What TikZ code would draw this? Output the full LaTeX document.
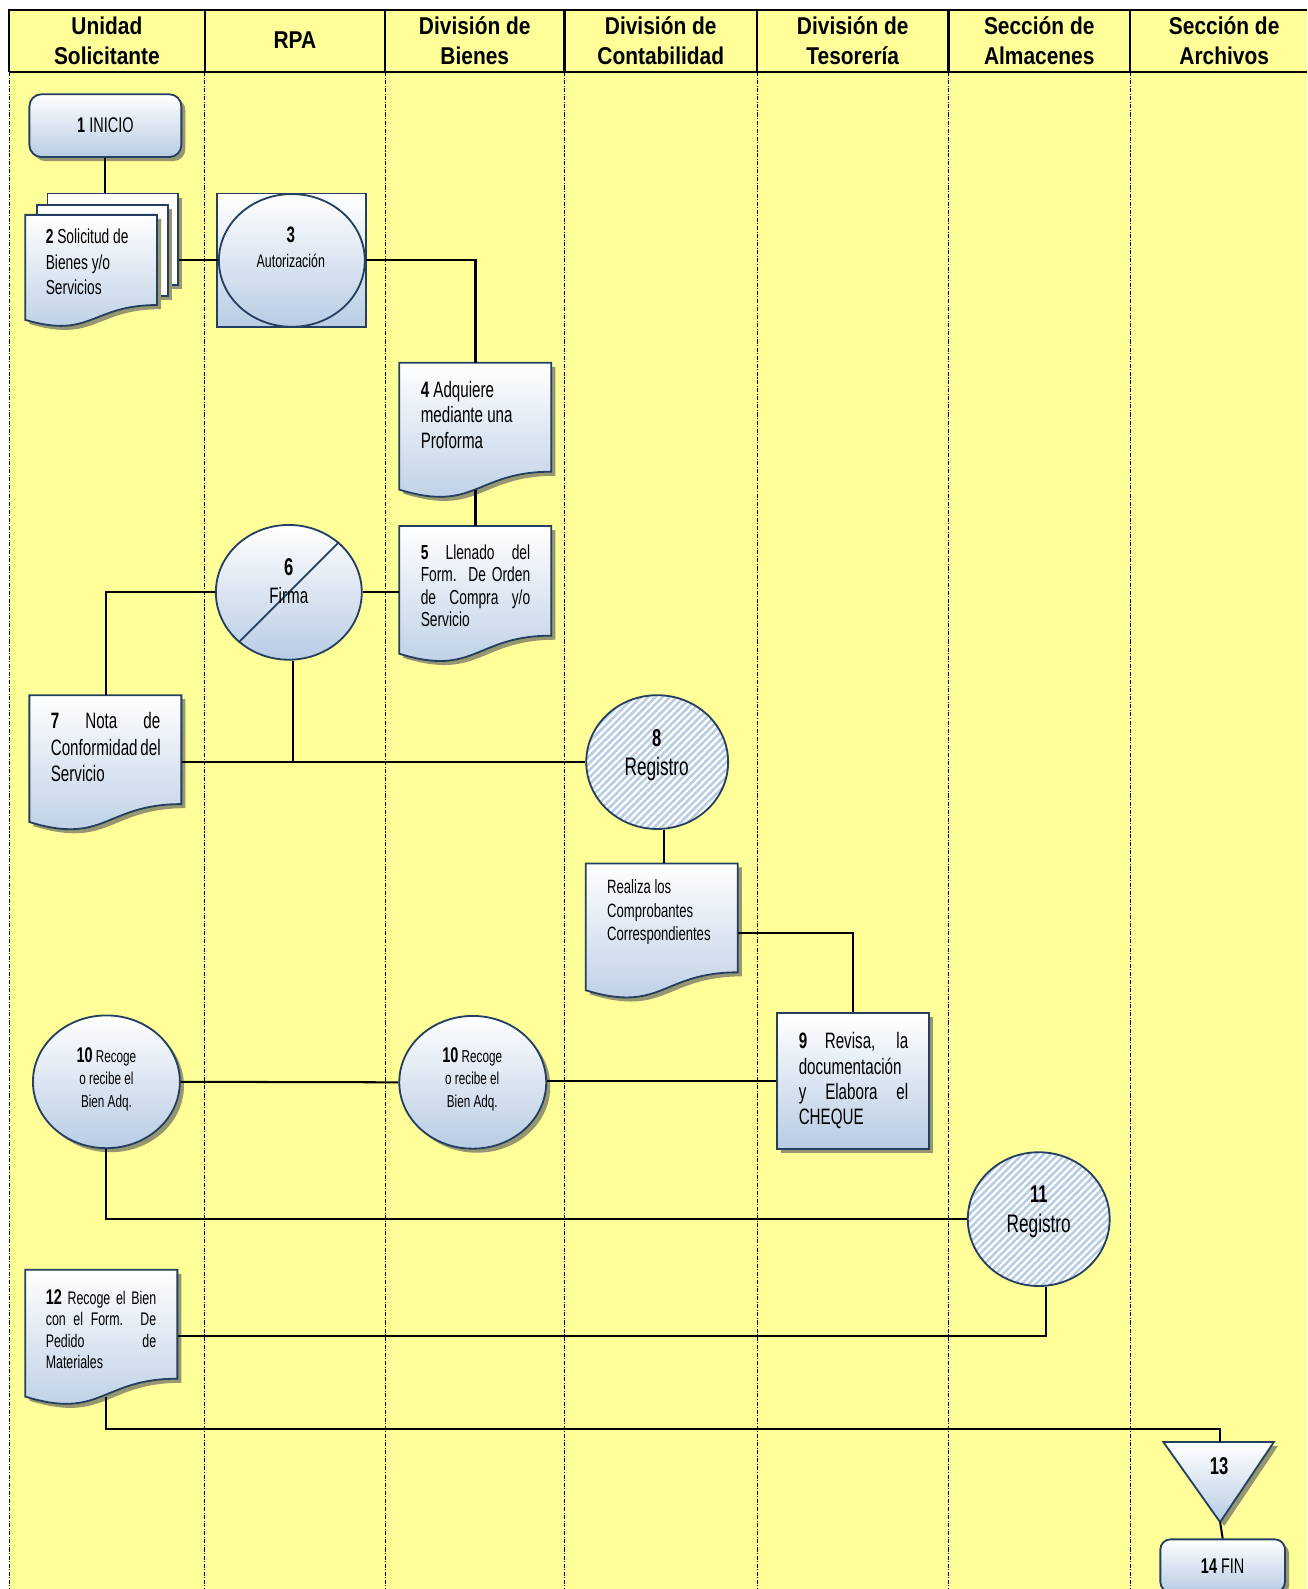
\documentclass[tikz,border=0pt]{standalone}
\usepackage{fontspec}
\usetikzlibrary{shapes.geometric,shadows,patterns.meta}
\newfontfamily\bodyf[FakeStretch=0.68]{Liberation Sans}
\newfontfamily\hdrf[FakeStretch=0.86]{Liberation Sans}
\definecolor{bgy}{RGB}{255,255,153}
\definecolor{navy}{RGB}{36,63,96}
\definecolor{lblue}{RGB}{184,204,228}
\definecolor{shadowc}{RGB}{150,150,112}
\definecolor{hatchc}{RGB}{184,204,228}
\newcommand\fsz[2]{\fontsize{#1}{#2}\selectfont}
\newcommand\jl[2]{\makebox[#1][s]{#2}}
\tikzset{
 shapeb/.style={draw=navy, line width=1.8pt},
 conn/.style={line width=2pt, black},
 gradf/.style={top color=white, bottom color=lblue},
 shad/.style={drop shadow={shadow xshift=4pt, shadow yshift=-4pt, fill=shadowc, opacity=1}},
 txt/.style={inner sep=0pt},
 divl/.style={line width=0.7pt, dash pattern=on 4pt off 1.5pt on 1pt off 1.5pt},
 hatch/.style={preaction={fill=white}, pattern={Lines[angle=45,distance=5pt,line width=2.5pt]}, pattern color=hatchc},
 hdr/.style={align=center, inner sep=0pt, font={\hdrf\bfseries\fsz{24}{30}}},
}
\newcommand\docnode[5]{%
  \pgfmathsetmacro\dRy{#3+0.802*#5}%
  \pgfmathsetmacro\dLy{#3+0.934*#5}%
  \pgfmathsetmacro\dCy{#3+1.107*#5}%
  \pgfmathsetmacro\dMx{(#2+#4)/2}%
  \pgfmathsetmacro\dW{#4-#2}%
  \pgfmathsetmacro\dH{0.933*#5}%
  \fill[shadowc,xshift=4pt,yshift=-4pt] (#2,#3) -- (#4,#3) -- (#4,\dRy) .. controls (\dMx,\dRy) and (\dMx,\dCy) .. (#2,\dLy) -- cycle;
  \draw[shapeb,gradf] (#2,#3) -- (#4,#3) -- (#4,\dRy) .. controls (\dMx,\dRy) and (\dMx,\dCy) .. (#2,\dLy) -- cycle;
  \node[inner sep=0pt,minimum width=\dW pt,minimum height=\dH pt,anchor=north west] (#1) at (#2,#3) {};
}
\begin{document}
\begin{tikzpicture}[x=1pt,y=-1pt]
\useasboundingbox (0,0) rectangle (1290,1568);
\fill[white] (0,0) rectangle (1290,1568);
\fill[bgy] (9,10) rectangle (1290,1568);
% lane dividers
\foreach \xx in {9,202,380,557,747,936,1115} {\draw[divl] (\xx,71) -- (\xx,1568);}
% header
\draw[line width=2.2pt] (9,71) -- (9,10) -- (1290,10);
\draw[line width=2.2pt] (9,71) -- (1290,71);
\foreach \xx in {202,380,557,747,936,1115} {\draw[line width=2.2pt] (\xx,10) -- (\xx,71);}
\node[hdr] (h1) at (105.5,40) {Unidad\\Solicitante};
\node[hdr] (h2) at (291,40) {RPA};
\node[hdr] (h3) at (468.5,40) {División de\\Bienes};
\node[hdr] (h4) at (652,40) {División de\\Contabilidad};
\node[hdr] (h5) at (841.5,40) {División de\\Tesorería};
\node[hdr] (h6) at (1025.5,40) {Sección de\\Almacenes};
\node[hdr] (h7) at (1208,40) {Sección de\\Archivos};

% 1 INICIO
\node[shapeb, gradf, shad, rounded corners=12pt, minimum width=150pt, minimum height=62pt, inner sep=0pt, font={\bodyf\fsz{21}{21}}] (n1) at (104,124) {\textbf{1} INICIO};
% 2 multi document
\node[shapeb, fill=white, shad, minimum width=129pt, minimum height=90pt, inner sep=0pt, anchor=north west] (d2c) at (46,190) {};
\node[shapeb, fill=white, shad, minimum width=129pt, minimum height=90pt, inner sep=0pt, anchor=north west] (d2b) at (36,201) {};
\docnode{d2}{25}{212}{155}{111}
\node[txt, anchor=north west, align=left, font={\bodyf\fsz{20}{25}}] (t2) at (45,226) {\textbf{2} Solicitud de\\Bienes y/o\\Servicios};
% 3
\node[shapeb, gradf, minimum width=147pt, minimum height=132pt, inner sep=0pt] (sq3) at (287.5,257) {};
\node[ellipse, shapeb, gradf, minimum width=144pt, minimum height=131pt, inner sep=0pt] (c3) at (288,257) {};
\node[txt, anchor=base, font={\bodyf\bfseries\fsz{22}{22}}] (t3a) at (287,239) {3};
\node[txt, anchor=base, font={\bodyf\fsz{18}{18}}] (t3b) at (287,263.5) {Autorización};
% 4
\docnode{d4}{394}{358}{544}{134}
\node[txt, anchor=north west, align=left, font={\bodyf\fsz{22}{25}}] (t4) at (415,376) {\textbf{4} Adquiere\\mediante una\\Proforma};
% 5
\docnode{d5}{394}{519}{544}{135}
\node[txt, anchor=north west, align=left, font={\bodyf\fsz{20}{22}}] (t5) at (415,537.6) {\jl{108pt}{\textbf{5} Llenado del}\\\jl{108pt}{Form. De Orden}\\\jl{108pt}{de Compra y/o}\\Servicio};
% 6
\node[ellipse, shapeb, gradf, minimum width=144pt, minimum height=133pt, inner sep=0pt] (c6) at (285,584.5) {};
\draw[navy, line width=1.8pt] (c6.225) -- (c6.45);
\node[txt, anchor=base, font={\bodyf\bfseries\fsz{24}{24}}] (t6a) at (285,567.6) {6};
\node[txt, anchor=base, font={\bodyf\fsz{22}{22}}] (t6b) at (285,596) {Firma};
% 7
\docnode{d7}{29}{686}{179}{134}
\node[txt, anchor=north west, align=left, font={\bodyf\fsz{22}{26}}] (t7) at (50,702.9) {\jl{108pt}{\textbf{7} Nota de}\\\jl{108pt}{Conformidad del}\\Servicio};
% 8
\node[ellipse, shapeb, hatch, minimum width=140pt, minimum height=132pt, inner sep=0pt] (c8) at (648.5,752) {};
\node[txt, anchor=base, font={\bodyf\bfseries\fsz{24}{24}}] (t8a) at (648,736.6) {8};
\node[txt, anchor=base, font={\bodyf\fsz{25}{25}}] (t8b) at (648,765) {Registro};
% Realiza
\docnode{dr}{578}{852}{728}{134}
\node[txt, anchor=north west, align=left, font={\bodyf\fsz{19}{23}}] (tr) at (599,868) {Realiza los\\Comprobantes\\Correspondientes};
% 9
\node[shapeb, gradf, shad, minimum width=150pt, minimum height=134pt, inner sep=0pt] (b9) at (842,1067) {};
\node[txt, anchor=north west, align=left, font={\bodyf\fsz{22}{25}}] (t9) at (788,1018.9) {\jl{108pt}{\textbf{9} Revisa, la}\\documentación\\\jl{108pt}{y Elabora el}\\CHEQUE};
% 10
\node[ellipse, shapeb, gradf, shad, minimum width=145pt, minimum height=131pt, inner sep=0pt] (c10a) at (105,1067.5) {};
\node[ellipse, shapeb, gradf, shad, minimum width=145pt, minimum height=131pt, inner sep=0pt] (c10b) at (466.5,1068) {};
\node[txt, anchor=north, align=center, font={\bodyf\fsz{17}{22}}] (t10a) at (105,1033.5) {{\fsz{21}{22}\textbf{10}} Recoge\\o recibe el\\Bien Adq.};
\node[txt, anchor=north, align=center, font={\bodyf\fsz{17}{22}}] (t10b) at (466,1033.5) {{\fsz{21}{22}\textbf{10}} Recoge\\o recibe el\\Bien Adq.};
% 11
\node[ellipse, shapeb, hatch, minimum width=140pt, minimum height=132pt, inner sep=0pt] (c11) at (1025,1203) {};
\node[txt, anchor=base, font={\bodyf\bfseries\fsz{24}{24}}] (t11a) at (1025,1186.6) {11};
\node[txt, anchor=base, font={\bodyf\fsz{25}{25}}] (t11b) at (1025,1216) {Registro};
% 12
\docnode{d12}{25}{1253}{175}{134}
\node[txt, anchor=north west, align=left, font={\bodyf\fsz{18}{21}}] (t12) at (45,1272.5) {\jl{109pt}{{\fsz{21}{21}\textbf{12}} Recoge el Bien}\\\jl{109pt}{con el Form. De}\\\jl{109pt}{Pedido de}\\Materiales};
% 13
\coordinate (t13) at (1204,1423);
\coordinate (t13b) at (1204,1502);
\fill[shadowc,xshift=4pt,yshift=-4pt] (1148,1423) -- (1257,1423) -- (1204,1502) -- cycle;
\draw[shapeb,gradf] (1148,1423) -- (1257,1423) -- (1204,1502) -- cycle;
\node[txt, anchor=base, font={\bodyf\bfseries\fsz{24}{24}}] (tt13) at (1203,1454.6) {13};
% 14 FIN
\node[shapeb, gradf, shad, rounded corners=10pt, minimum width=123pt, minimum height=52pt, inner sep=0pt, font={\bodyf\fsz{21}{21}}] (n14) at (1206.5,1545) {\textbf{14} FIN};

% connectors
\coordinate (j12) at (104,1410);
\draw[conn] (n1.south) -- (n1.south |- d2c.north);
\draw[conn] (c3.west -| d2c.east) -- (c3.west);
\draw[conn] (c3.east) -| (d4.north);
\draw[conn] (d4.south) -- (d5.north);
\draw[conn] (c6.east) -- (c6.east -| d5.west);
\draw[conn] (c6.west) -| (d7.north);
\draw[conn] (c8.west -| d7.east) -- (c8.west);
\draw[conn] ([xshift=4pt]c6.south) -- ([xshift=4pt]c6.south |- c8.west);
\draw[conn] ([xshift=7pt]c8.south) -- ([xshift=7pt]c8.south |- dr.north);
\draw[conn] ([yshift=-6pt]dr.east) -| (b9.north);
\draw[conn] (b9.west) -- (b9.west -| c10b.east);
\draw[conn] (c10b.west) -- (c10a.east);
\draw[conn] (c10a.south) |- (c11.west);
\draw[conn] ([xshift=7pt]c11.south) |- ([yshift=-3pt]d12.east);
\draw[conn] ([xshift=4pt]d12.south) -- ([xshift=4pt]d12.south |- j12) -| (t13);
\draw[conn] (t13b) -- (n14.north);
\end{tikzpicture}
\end{document}
